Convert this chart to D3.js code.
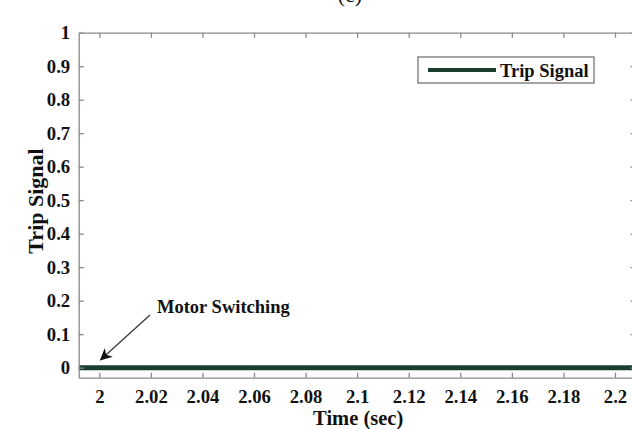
<!DOCTYPE html>
<html>
<head>
<meta charset="utf-8">
<script src="https://cdn.jsdelivr.net/npm/d3@7"></script>
<style>
  html, body { margin: 0; padding: 0; background: #fff; overflow: hidden; }
  svg { display: block; }
  text { font-family: "Liberation Serif", "Times New Roman", serif; font-weight: bold; fill: #111; }
</style>
</head>
<body>
<svg id="chart" width="632" height="429"></svg>
<script>
// Trip signal record around the motor switching instant
const timeSec = [1.992, 2.0, 2.04, 2.08, 2.12, 2.16, 2.2, 2.208];
const tripSignal = [0, 0, 0, 0, 0, 0, 0, 0];

const xTickValues = [2, 2.02, 2.04, 2.06, 2.08, 2.1, 2.12, 2.14, 2.16, 2.18, 2.2];
const xTickLabels = ["2", "2.02", "2.04", "2.06", "2.08", "2.1", "2.12", "2.14", "2.16", "2.18", "2.2"];
const yTickValues = [0, 0.1, 0.2, 0.3, 0.4, 0.5, 0.6, 0.7, 0.8, 0.9, 1];
const yTickLabels = ["0", "0.1", "0.2", "0.3", "0.4", "0.5", "0.6", "0.7", "0.8", "0.9", "1"];

const xDomain = [1.992, 2.208];
const yDomain = [-0.03, 1];

const svg = d3.select("#chart");
const plot = { left: 78.7, top: 32.7, right: 635.6, bottom: 377.7 };

const x = d3.scaleLinear().domain(xDomain).range([plot.left, plot.right]);
const y = d3.scaleLinear().domain(yDomain).range([plot.bottom, plot.top]);

const axisColor = "#8a8a8a";
const lineColor = "#1b3f2d";

// Panel caption (partly above the frame)
svg.append("text")
  .attr("x", 350).attr("y", 2)
  .attr("text-anchor", "middle")
  .style("font-weight", "normal")
  .style("font-size", "22px")
  .text("(c)");

// Data line, clipped to the axes box
svg.append("clipPath").attr("id", "plotClip")
  .append("rect")
  .attr("x", plot.left).attr("y", plot.top)
  .attr("width", plot.right - plot.left).attr("height", plot.bottom - plot.top);

const line = d3.line().x((d, i) => x(timeSec[i])).y(d => y(d));
svg.append("path")
  .datum(tripSignal)
  .attr("clip-path", "url(#plotClip)")
  .attr("fill", "none")
  .attr("stroke", lineColor)
  .attr("stroke-width", 5)
  .attr("d", line);

function styleAxis(g) {
  g.select(".domain").attr("stroke", axisColor).attr("stroke-width", 1.3);
  g.selectAll(".tick line").attr("stroke", axisColor).attr("stroke-width", 1.3);
  g.selectAll(".tick text")
    .style("font-family", '"Liberation Serif", "Times New Roman", serif')
    .style("font-weight", "bold")
    .style("font-size", "18.7px")
    .attr("fill", "#111");
}

// Bottom axis with labels
svg.append("g")
  .attr("transform", `translate(0,${plot.bottom})`)
  .call(d3.axisBottom(x).tickValues(xTickValues)
    .tickFormat((d, i) => xTickLabels[i])
    .tickSizeInner(-5).tickSizeOuter(0).tickPadding(12.2))
  .call(styleAxis);

// Top axis, ticks only
svg.append("g")
  .attr("transform", `translate(0,${plot.top})`)
  .call(d3.axisTop(x).tickValues(xTickValues).tickFormat("")
    .tickSizeInner(-5).tickSizeOuter(0))
  .call(styleAxis);

// Left axis with labels
svg.append("g")
  .attr("transform", `translate(${plot.left},0)`)
  .call(d3.axisLeft(y).tickValues(yTickValues)
    .tickFormat((d, i) => yTickLabels[i])
    .tickSizeInner(-5).tickSizeOuter(0).tickPadding(8.5))
  .call(styleAxis);

// Right axis, ticks only
svg.append("g")
  .attr("transform", `translate(${plot.right},0)`)
  .call(d3.axisRight(y).tickValues(yTickValues).tickFormat("")
    .tickSizeInner(-5).tickSizeOuter(0))
  .call(styleAxis);

// Axis titles
svg.append("text")
  .attr("x", (plot.left + plot.right) / 2 + 1).attr("y", 424.5)
  .attr("text-anchor", "middle")
  .style("font-size", "20.5px")
  .text("Time (sec)");

svg.append("text")
  .attr("transform", `translate(43,201) rotate(-90)`)
  .attr("text-anchor", "middle")
  .style("font-size", "22px")
  .text("Trip Signal");

// Legend
const legend = svg.append("g");
legend.append("rect")
  .attr("x", 418).attr("y", 57).attr("width", 176).attr("height", 26)
  .attr("fill", "#fff").attr("stroke", "#6a6a6a").attr("stroke-width", 1.2);
legend.append("line")
  .attr("x1", 428).attr("x2", 496).attr("y1", 70).attr("y2", 70)
  .attr("stroke", lineColor).attr("stroke-width", 4);
legend.append("text")
  .attr("x", 500).attr("y", 76.5)
  .style("font-size", "18.5px")
  .text("Trip Signal");

// Annotation for the switching instant
svg.append("defs").append("marker")
  .attr("id", "arrowHead")
  .attr("viewBox", "0 0 10 10")
  .attr("refX", 9.5).attr("refY", 5)
  .attr("markerWidth", 16).attr("markerHeight", 12)
  .attr("markerUnits", "userSpaceOnUse")
  .attr("orient", "auto")
  .append("path")
  .attr("d", "M0,0 L10,5 L0,10 L3,5 Z")
  .attr("fill", "#111");

svg.append("line")
  .attr("x1", 150).attr("y1", 315)
  .attr("x2", x(2) + 1).attr("y2", 360)
  .attr("stroke", "#333").attr("stroke-width", 1.2)
  .attr("marker-end", "url(#arrowHead)");

svg.append("text")
  .attr("x", 157).attr("y", 312.5)
  .style("font-size", "18.5px")
  .text("Motor Switching");
</script>
</body>
</html>
